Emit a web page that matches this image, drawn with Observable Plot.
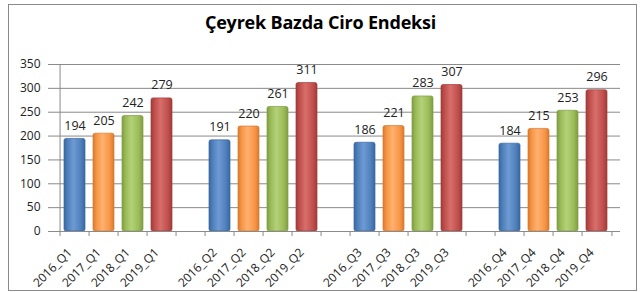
<!DOCTYPE html>
<html><head><meta charset="utf-8">
<script src="https://cdn.jsdelivr.net/npm/d3@7"></script>
<script src="https://cdn.jsdelivr.net/npm/@observablehq/plot@0.6"></script>
<style>
body{margin:0;background:#fff;}
#wrap{position:relative;width:641px;height:292px;overflow:hidden;background:#fff;}
#frame{position:absolute;left:8px;top:4px;width:629px;height:287px;border:1px solid #8a8a8a;box-sizing:border-box;}
#title{position:absolute;left:0;width:641px;top:10px;text-align:center;font:bold 18px "Open Sans";color:#000;letter-spacing:-0.2px;}
#chart{position:absolute;left:0;top:0;}
</style></head>
<body><div id="wrap"><div id="frame"></div><div id="title">Çeyrek Bazda Ciro Endeksi</div><div id="chart"></div></div>
<script>
const years = ["2016", "2017", "2018", "2019"];
const quarters = ["Q1", "Q2", "Q3", "Q4"];
const valuesQ1 = [194, 205, 242, 279];
const valuesQ2 = [191, 220, 261, 311];
const valuesQ3 = [186, 221, 283, 307];
const valuesQ4 = [184, 215, 253, 296];
const yTicks = [0, 50, 100, 150, 200, 250, 300, 350];
const yearColors = ["#4F81BD", "#F79646", "#9BBB59", "#C0504D"];
const yearDark = ["#3A679F", "#D87A2E", "#7E9D41", "#A23B38"];
const yearLight = ["#6E9AD2", "#FFB070", "#B3D278", "#D86E6A"];

const quarterValues = [valuesQ1, valuesQ2, valuesQ3, valuesQ4];
const data = [];
const domain = [];
quarters.forEach((q, qi) => {
  if (qi > 0) domain.push("gap" + qi);
  years.forEach((y, yi) => {
    const label = `${y}_${q}`;
    domain.push(label);
    data.push({label, year: y, yi, value: quarterValues[qi][yi]});
  });
});

const W = 641, H = 292, mL = 52, mR = 21, mT = 64, mB = 61;
const step = (W - mL - mR) / domain.length;

const chart = Plot.plot({
  width: W, height: H,
  marginLeft: mL, marginRight: mR, marginTop: mT, marginBottom: mB,
  style: {fontFamily: "Open Sans", background: "transparent", overflow: "visible"},
  x: {domain, paddingInner: 0.26, paddingOuter: 0.13, axis: null, label: null},
  y: {domain: [0, 350], axis: null, label: null},
  marks: [
    Plot.gridY(yTicks, {stroke: "#8a8a8a", strokeOpacity: 1, strokeWidth: 1}),
    Plot.axisY(yTicks, {tickSize: 4, tickPadding: 8, stroke: "#8a8a8a", fontSize: 12, fill: "#222", label: null}),
    Plot.ruleX([domain[0]], {dx: -step / 2, stroke: "#8a8a8a"}),
    Plot.barY(data, {x: "label", y: "value", fill: d => `url(#grad${d.yi})`, stroke: d => yearDark[d.yi], strokeWidth: 0.7, rx: 2}),
    Plot.ruleY([0], {stroke: "#8a8a8a"}),
    Plot.axisX(domain, {anchor: "bottom", tickSize: 5, tickFormat: () => "", dx: -step / 2, stroke: "#8a8a8a", label: null}),
    Plot.axisX([domain[domain.length - 1]], {anchor: "bottom", tickSize: 5, tickFormat: () => "", dx: step / 2, stroke: "#8a8a8a", label: null}),
    Plot.text(data, {x: "label", text: "label", frameAnchor: "bottom", rotate: -45, textAnchor: "end", lineAnchor: "middle", dy: 19, dx: -5, fontSize: 12, fill: "#222"}),
    Plot.text(data, {x: "label", y: "value", text: d => String(d.value), dy: -13, lineAnchor: "middle", fontSize: 12.5, fill: "#222"})
  ]
});

const ns = "http://www.w3.org/2000/svg";
const defs = document.createElementNS(ns, "defs");
yearColors.forEach((c, i) => {
  const g = document.createElementNS(ns, "linearGradient");
  g.setAttribute("id", "grad" + i);
  g.setAttribute("x1", "0"); g.setAttribute("x2", "1"); g.setAttribute("y1", "0"); g.setAttribute("y2", "0");
  [[0, yearDark[i]], [0.18, c], [0.45, yearLight[i]], [0.8, c], [1, yearDark[i]]].forEach(([o, col]) => {
    const s = document.createElementNS(ns, "stop");
    s.setAttribute("offset", o); s.setAttribute("stop-color", col);
    g.appendChild(s);
  });
  defs.appendChild(g);
});
chart.insertBefore(defs, chart.firstChild);
document.getElementById("chart").appendChild(chart);
</script>
</body></html>
